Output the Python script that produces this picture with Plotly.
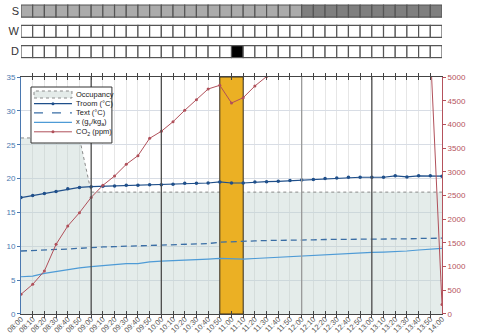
import pandas as pd
import plotly.graph_objects as go

# ==========================
# Data (10-minute samples, 08:00 - 14:00)
# ==========================

times = pd.date_range("2024-01-01 08:00", "2024-01-01 14:00", freq="10min")
cells = pd.date_range("2024-01-01 08:05", periods=36, freq="10min")

occupancy = [26, 26, 26, 26, 26, 26,
             18, 18, 18, 18, 18, 18, 18, 18, 18, 18, 18, 18, 18, 18, 18, 18,
             18, 18, 18, 18, 18, 18, 18, 18, 18, 18, 18, 18, 18, 18, 18]

troom = [17.2, 17.5, 17.8, 18.1, 18.5, 18.7, 18.8, 18.85, 18.9, 19.0, 19.0, 19.1,
         19.1, 19.15, 19.3, 19.3, 19.35, 19.5, 19.35, 19.35, 19.5, 19.55, 19.6, 19.7,
         19.8, 19.85, 20.0, 20.1, 20.2, 20.2, 20.2, 20.2, 20.4, 20.25, 20.4, 20.4, 20.35]

text_temp = [9.3, 9.35, 9.45, 9.55, 9.6, 9.7, 9.85, 9.9, 9.95, 10.0, 10.05, 10.1,
             10.15, 10.15, 10.2, 10.3, 10.4, 10.6, 10.7, 10.8, 10.8, 10.85, 10.85, 10.9,
             10.9, 10.95, 11.0, 11.0, 11.0, 11.0, 11.0, 11.05, 11.1, 11.1, 11.15, 11.2, 11.2]

x_hum = [5.5, 5.6, 6.0, 6.3, 6.6, 6.8, 7.0, 7.15, 7.2, 7.45, 7.45, 7.7,
         7.8, 7.85, 8.0, 8.05, 8.1, 8.2, 8.1, 8.1, 8.2, 8.3, 8.4, 8.5,
         8.6, 8.7, 8.8, 8.85, 8.9, 9.0, 9.1, 9.15, 9.2, 9.3, 9.45, 9.6, 9.7]

co2 = [416, 626, 907, 1470, 1857, 2138, 2460, 2714, 2911, 3158, 3340, 3706,
       3855, 4057, 4297, 4521, 4747, 4825, 4451, 4563, 4810, 5010, 5200, 5350,
       5450, 5550, 5600, 5650, 5700, 5720, 5750, 5750, 5700, 5700, 5650, 5600, 200]

# state strips (0 = off, 1 = low, 2 = high, 3 = on)
strip_labels = ["D", "W", "S"]
s_state = [1, 1, 1, 1, 1, 1, 1, 1, 1, 1, 1, 1, 1, 1, 1, 1, 1, 1, 1, 1, 1, 1, 1, 1,
           2, 2, 2, 2, 2, 2, 2, 2, 2, 2, 2, 2]
w_state = [0, 0, 0, 0, 0, 0, 0, 0, 0, 0, 0, 0, 0, 0, 0, 0, 0, 0, 0, 0, 0, 0, 0, 0,
           0, 0, 0, 0, 0, 0, 0, 0, 0, 0, 0, 0]
d_state = [0, 0, 0, 0, 0, 0, 0, 0, 0, 0, 0, 0, 0, 0, 0, 0, 0, 0, 3, 0, 0, 0, 0, 0,
           0, 0, 0, 0, 0, 0, 0, 0, 0, 0, 0, 0]
state_colors = {0: "#ffffff", 1: "#ababab", 2: "#7f7f7f", 3: "#000000"}

events = [("10:50", "11:10")]
hour_lines_dark = ["09:00", "10:00", "13:00"]
hour_lines_light = ["12:00"]

Y_MAX = 35
CO2_MAX = 5000

BLUE_DARK = "#1f4f8a"
BLUE_MID = "#3a6ea5"
BLUE_LIGHT = "#4e9bd6"
RED = "#b0505a"
AXIS_BLUE = "#4a78b0"
AXIS_RED = "#b5525c"
ORANGE = "#ebb024"
FONT = "Liberation Sans"


def day(hm):
    return pd.Timestamp("2024-01-01 " + hm)


fig = go.Figure()

# ==========================
# Occupancy (shaded)
# ==========================

fig.add_trace(go.Scatter(
    x=times, y=occupancy, mode="lines", fill="tozeroy",
    fillcolor="rgba(190,210,205,0.42)",
    line=dict(color="#8a8a8a", width=1, dash="dot"),
    showlegend=False
))

# ==========================
# Event bar (orange)
# ==========================

for start, end in events:
    fig.add_trace(go.Scatter(
        x=[day(start), day(start), day(end), day(end), day(start)],
        y=[0, Y_MAX, Y_MAX, 0, 0],
        mode="lines", fill="toself", fillcolor=ORANGE,
        line=dict(color="#3a3020", width=1),
        showlegend=False
    ))

# ==========================
# Temperatures / humidity
# ==========================

fig.add_trace(go.Scatter(
    x=times, y=x_hum, mode="lines",
    line=dict(color=BLUE_LIGHT, width=1.2), showlegend=False
))

fig.add_trace(go.Scatter(
    x=times, y=text_temp, mode="lines",
    line=dict(color=BLUE_MID, width=1.3, dash="6px,4px"), showlegend=False
))

fig.add_trace(go.Scatter(
    x=times, y=troom, mode="lines+markers",
    line=dict(color=BLUE_DARK, width=1.2),
    marker=dict(color=BLUE_DARK, size=3.5), showlegend=False
))

# ==========================
# CO2 (right axis)
# ==========================

fig.add_trace(go.Scatter(
    x=times, y=co2, mode="lines+markers", yaxis="y2",
    line=dict(color=RED, width=1),
    marker=dict(color=RED, size=3), showlegend=False
))

# ==========================
# State strips S / W / D
# ==========================

for row, states in enumerate([d_state, w_state, s_state]):
    fig.add_trace(go.Bar(
        x=cells, y=[0.6] * len(cells), base=[row] * len(cells),
        width=600000, xaxis="x2", yaxis="y3",
        marker=dict(color=[state_colors[s] for s in states],
                    line=dict(color="#555555", width=1.2)),
        cliponaxis=False, showlegend=False
    ))

# ==========================
# Hour lines
# ==========================

for hm in hour_lines_dark:
    fig.add_shape(type="line", xref="x", yref="y domain", x0=day(hm), x1=day(hm),
                  y0=0, y1=1, line=dict(color="#4d4d4d", width=1.3), layer="above")
for hm in hour_lines_light:
    fig.add_shape(type="line", xref="x", yref="y domain", x0=day(hm), x1=day(hm),
                  y0=0, y1=1, line=dict(color="#9a9a9a", width=1.3), layer="above")

# ==========================
# Legend (drawn by hand to keep it compact)
# ==========================

PX_L, PX_R, PX_T, PX_B = 21, 442.4, 77, 314


def dx(px):
    return (px - PX_L) / (PX_R - PX_L)


def dy(py):
    return (PX_B - py) / (PX_B - PX_T)


fig.add_shape(type="rect", xref="x domain", yref="y domain",
              x0=dx(31), x1=dx(112), y0=dy(143), y1=dy(87),
              fillcolor="white", line=dict(color="#333333", width=1), layer="above")

legend_items = ["Occupancy", "Troom (°C)", "Text (°C)",
                "x (g<sub>v</sub>/kg<sub>a</sub>)", "CO<sub>2</sub> (ppm)"]
legend_y = [94.5, 103.7, 112.9, 122.3, 131.8]

fig.add_shape(type="rect", xref="x domain", yref="y domain",
              x0=dx(34), x1=dx(72), y0=dy(98), y1=dy(91),
              fillcolor="#e4ebe9", line=dict(color="#8a8a8a", width=1, dash="dot"),
              layer="above")

sample_styles = [None,
                 dict(color=BLUE_DARK, width=1.2),
                 dict(color=BLUE_MID, width=1.3, dash="dash"),
                 dict(color=BLUE_LIGHT, width=1.2),
                 dict(color=RED, width=1)]
sample_dots = [None, BLUE_DARK, None, None, RED]

for label, py, style, dot in zip(legend_items, legend_y, sample_styles, sample_dots):
    if style is not None:
        fig.add_shape(type="line", xref="x domain", yref="y domain",
                      x0=dx(34), x1=dx(72), y0=dy(py), y1=dy(py),
                      line=style, layer="above")
    if dot is not None:
        fig.add_shape(type="circle", xref="x domain", yref="y domain",
                      x0=dx(51.5), x1=dx(54.5), y0=dy(py + 1.5), y1=dy(py - 1.5),
                      fillcolor=dot, line=dict(color=dot, width=0), layer="above")
    fig.add_annotation(xref="x domain", yref="y domain", x=dx(74), y=dy(py),
                       text=label, showarrow=False, xanchor="left", yanchor="middle",
                       font=dict(family=FONT, size=7.5, color="#222222"))

# ==========================
# Layout
# ==========================

fig.update_layout(
    width=494,
    height=336,
    margin=dict(l=21, r=52, t=4, b=22),
    paper_bgcolor="white",
    plot_bgcolor="white",
    barmode="overlay",
    font=dict(family=FONT, size=8, color="#555555"),
    xaxis=dict(
        type="date",
        range=[times[0], times[-1]],
        domain=[0, 1],
        anchor="y",
        dtick=600000,
        tickformat="%H:%M",
        tickangle=-45,
        tickfont=dict(size=7.5, color="#555555"),
        ticklabelstandoff=-3,
        showgrid=True,
        gridcolor="#e6e6e6",
        showline=True,
        linecolor="#444444",
        linewidth=1,
        mirror="allticks",
        ticks="inside",
        ticklen=3,
        tickcolor="#444444",
        automargin=False,
    ),
    yaxis=dict(
        domain=[0, 0.7645],
        range=[0, Y_MAX],
        dtick=5,
        tickfont=dict(size=8, color=AXIS_BLUE),
        showgrid=True,
        gridcolor="#d8dde5",
        zeroline=False,
        showline=True,
        linecolor=AXIS_BLUE,
        ticks="outside",
        ticklen=3,
        tickcolor=AXIS_BLUE,
        automargin=False,
    ),
    yaxis2=dict(
        overlaying="y",
        side="right",
        range=[0, CO2_MAX],
        dtick=500,
        tickfont=dict(size=8, color=AXIS_RED),
        showgrid=False,
        zeroline=False,
        showline=True,
        linecolor=AXIS_RED,
        ticks="outside",
        ticklen=3,
        tickcolor=AXIS_RED,
        automargin=False,
    ),
    xaxis2=dict(
        matches="x",
        anchor="y3",
        domain=[0, 1],
        visible=False,
    ),
    yaxis3=dict(
        domain=[0.8235, 1.0],
        range=[-0.05, 2.65],
        tickvals=[0.3, 1.3, 2.3],
        ticktext=strip_labels,
        tickfont=dict(size=11, color="#333333"),
        showgrid=False,
        zeroline=False,
        showline=False,
        ticks="",
        ticklabelstandoff=1,
        automargin=False,
    ),
)

fig.write_html(
    "out.html",
    config={"displayModeBar": False},
    post_script="document.body.style.margin='0';document.body.style.padding='0';"
)
